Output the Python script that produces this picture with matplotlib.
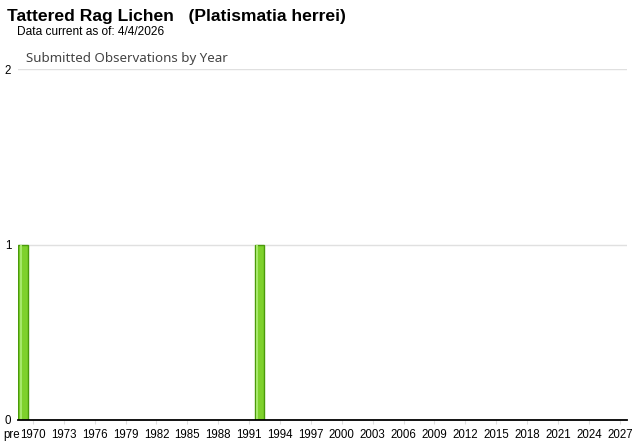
import matplotlib
matplotlib.use("Agg")
import matplotlib.pyplot as plt

# observations per year ("pre" sits one slot before 1969)
years = [1969, 1992]
counts = [1, 1]
tick_years = list(range(1970, 2028, 3))
tick_labels = [str(y) for y in tick_years]
y_ticks = [0, 1, 2]

plt.rcParams['font.family'] = ['Liberation Sans', 'DejaVu Sans']

fig = plt.figure(figsize=(6.4, 4.42), dpi=100)
ax = fig.add_axes([18/640, 1-420/442, (627-18)/640, (420-69)/442])

ax.bar(years, counts, width=0.95, color='#7ed12c', edgecolor='#4a9a0a', linewidth=1.0, zorder=3)
# lighter stripe on the left of each bar
ax.bar([y - 0.2 for y in years], counts, width=0.2, color='#a6e86a', linewidth=0, zorder=4)

ax.set_xlim(1968.55, 2027.7)
ax.set_ylim(0, 2)
ax.set_xticks(tick_years)
ax.set_xticklabels(tick_labels, fontsize=8.3)
ax.set_yticks(y_ticks)
ax.set_yticklabels([str(v) for v in y_ticks], fontsize=8.3)
ax.tick_params(axis='y', length=0, pad=5)
ax.tick_params(axis='x', length=3, color='#dddddd', pad=3.5)
ax.grid(axis='y', color='#e0e0e0', linewidth=1, zorder=0)
for s in ['top', 'right', 'left']:
    ax.spines[s].set_visible(False)
ax.spines['bottom'].set_color('black')
ax.spines['bottom'].set_linewidth(1.3)
ax.spines['bottom'].set_zorder(5)

# the "pre" label lies left of the plot area
ax.text(1967.9, -0.0257, 'pre', transform=ax.get_xaxis_transform(), ha='center', va='top',
        fontsize=8.3, clip_on=False)

fig.text(7/640, 1-16/442, 'Tattered Rag Lichen   (Platismatia herrei)', fontsize=12.6,
         fontweight='bold', va='center', ha='left')
fig.text(17/640, 1-32/442, 'Data current as of: 4/4/2026', fontsize=8.6, va='center', ha='left')
fig.text(26/640, 1-58.5/442, 'Submitted Observations by Year', fontsize=9.6, color='#444444',
         va='center', ha='left', family=['Noto Sans', 'DejaVu Sans'])

fig.savefig('out.png', dpi=100)
